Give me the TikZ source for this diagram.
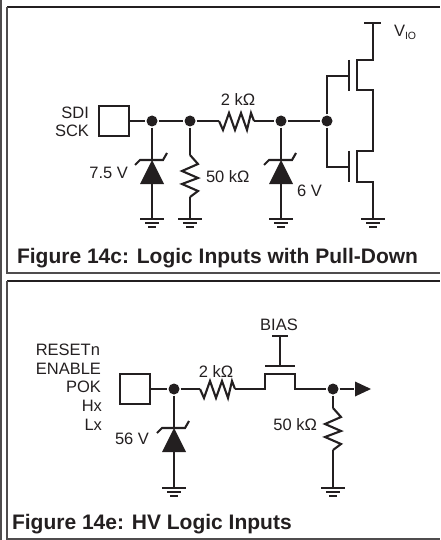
\documentclass[tikz,border=0pt]{standalone}
\usepackage{fontspec}
\setmainfont{Liberation Sans}
\usetikzlibrary{positioning}
\definecolor{ink}{HTML}{231F20}

\begin{document}
\begin{tikzpicture}[
    x = 1pt,
    y = -1pt,
    line width = 2.1pt,
    draw = ink,
    text = ink,
    frameline/.style = {draw = ink, line width = 2.2pt},
    thinframe/.style = {draw = ink!80, line width = 1.6pt},
    padbox/.style = {draw = ink, line width = 2pt, rectangle, inner sep = 0pt, minimum width = 30pt, minimum height = 30pt},
    joint/.style = {circle, fill = ink, inner sep = 0pt, minimum size = 11pt},
    lbl/.style = {font = \fontsize{16.5}{18}\selectfont, inner sep = 0pt},
    caption/.style = {font = \fontsize{21}{23}\selectfont\bfseries, inner sep = 0pt, anchor = base west},
    ground/.pic = {
        \coordinate (-top) at (0,0);
        \draw (-12,0) -- (12,0);
        \draw (-7,4) -- (7,4);
        \draw (-4,8) -- (4,8);
    },
    zener/.pic = {
        \coordinate (-top) at (0,0);
        \coordinate (-bot) at (0,24);
        \fill[ink] (0,0) -- (12,24) -- (-12,24) -- cycle;
        \draw (-17,5) -- (-12,0) -- (11,0) -- (15,-7);
    },
    resv/.pic = {
        \coordinate (-top) at (0,0);
        \coordinate (-bot) at (0,42);
        \draw (0,0) -- (8,9) -- (-8,16) -- (8,23) -- (-8,29) -- (8,36) -- (0,42);
    },
    resh/.pic = {
        \coordinate (-left) at (0,0);
        \coordinate (-right) at (35,0);
        \draw (0,0) -- (4,9) -- (10,-8) -- (16,9) -- (22,-8) -- (28,9) -- (32,-8) -- (35,0);
    }
]
\useasboundingbox (0,0) rectangle (440,540);

% Frames
\draw[thinframe] (0.7,0) -- (0.7,540);
\draw[frameline] (7,7) -- (440,7);
\draw[thinframe] (7,7) -- (7,273) -- (440,273);
\draw[frameline] (7,281) -- (440,281);
\draw[thinframe] (7,281) -- (7,539) -- (440,539);

% Figure 14c
\node[padbox] (padc) at (114,121) {};
\node[joint] (j1) at (152,121) {};
\node[joint] (j2) at (190,121) {};
\node[joint] (j3) at (281,121) {};
\node[joint] (j4) at (327,121) {};

\pic (zc1) at (152,160) {zener};
\pic (gc1) at (152,219) {ground};
\pic (rc1) at (190,155) {resv};
\pic (gc2) at (190,219) {ground};
\pic (rc2) at (219,121) {resh};
\pic (zc2) at (281,160) {zener};
\pic (gc3) at (281,219) {ground};
\pic (gc4) at (373,219) {ground};

\draw (padc) -- (j1) -- (j2) -- (rc2-left);
\draw (rc2-right) -- (j3) -- (j4);
\draw (j1) -- (zc1-top);
\draw (zc1-bot) -- (gc1-top);
\draw (j2) -- (rc1-top);
\draw (rc1-bot) -- (gc2-top);
\draw (j3) -- (zc2-top);
\draw (zc2-bot) -- (gc3-top);

% Transistors
\coordinate (gatep) at (349,76);
\coordinate (gaten) at (349,167);
\coordinate (vio)   at (373,23);
\draw (j4) |- (gatep);
\draw (j4) |- (gaten);
\draw (349,60) -- (349,91);
\draw (349,151) -- (349,182);
\draw (364,23) -- (381,23);
\draw (vio) -- (373,60) -- (357,60) -- (357,90) -- (373,90) -- (373,151)
    -- (357,151) -- (357,182) -- (373,182) -- (gc4-top);

\node[lbl, anchor = east] (sdi) at (90,113) {SDI};
\node[lbl, anchor = east] (sck) at (90,131) {SCK};
\node[lbl, anchor = east] (zvc1) at (129,173) {7.5 V};
\node[lbl, anchor = west] (rvc1) at (205,177) {50 kΩ};
\node[lbl] (rvc2) at (238,100) {2 kΩ};
\node[lbl, anchor = west] (zvc2) at (296,191) {6 V};
\node[lbl, anchor = base west] (violbl) at (393,37) {V\raisebox{-2.5pt}{\fontsize{10.5}{11}\selectfont IO}};
\node[caption] (capc) at (16,263) {Figure 14c: Logic Inputs with Pull-Down};

% Figure 14e
\node[padbox] (pade) at (135,389) {};
\node[joint] (j5) at (174,389) {};
\node[joint] (j6) at (333,389) {};

\pic (ze1) at (174,428) {zener};
\pic (ge1) at (174,488) {ground};
\pic (re1) at (200,389) {resh};
\pic (re2) at (333,408) {resv};
\pic (ge2) at (333,488) {ground};

\coordinate (gate) at (280,366);
\coordinate (biastop) at (280,336);
\node[inner sep = 0pt, minimum size = 0pt] (outp) at (355,389) {};

\draw (pade) -- (j5) -- (re1-left);
\draw (j5) -- (ze1-top);
\draw (ze1-bot) -- (ge1-top);
\draw (re1-right) -- (265,389) -- (265,374) -- (295,374) -- (295,389) -- (j6) -- (outp);
\draw (j6) -- (re2-top);
\draw (re2-bot) -- (ge2-top);
\draw (265,366) -- (295,366);
\draw (gate) -- (biastop);
\draw (272,336) -- (288,336);
\fill[ink] (355,381.5) -- (371,389) -- (355,396.5) -- cycle;

\node[lbl, anchor = east] (rstn) at (101,350) {RESETn};
\node[lbl, anchor = east] (enb)  at (102,369) {ENABLE};
\node[lbl, anchor = east] (pok)  at (102,387) {POK};
\node[lbl, anchor = east] (hx)   at (103,406) {Hx};
\node[lbl, anchor = east] (lx)   at (103,425) {Lx};
\node[lbl, anchor = east] (zve1) at (150,439) {56 V};
\node[lbl] (rve1) at (216,372) {2 kΩ};
\node[lbl] (bias) at (279,325) {BIAS};
\node[lbl, anchor = east] (rve2) at (318,425) {50 kΩ};
\node[caption] (cape) at (11,529) {Figure 14e: HV Logic Inputs};

\end{tikzpicture}
\end{document}
